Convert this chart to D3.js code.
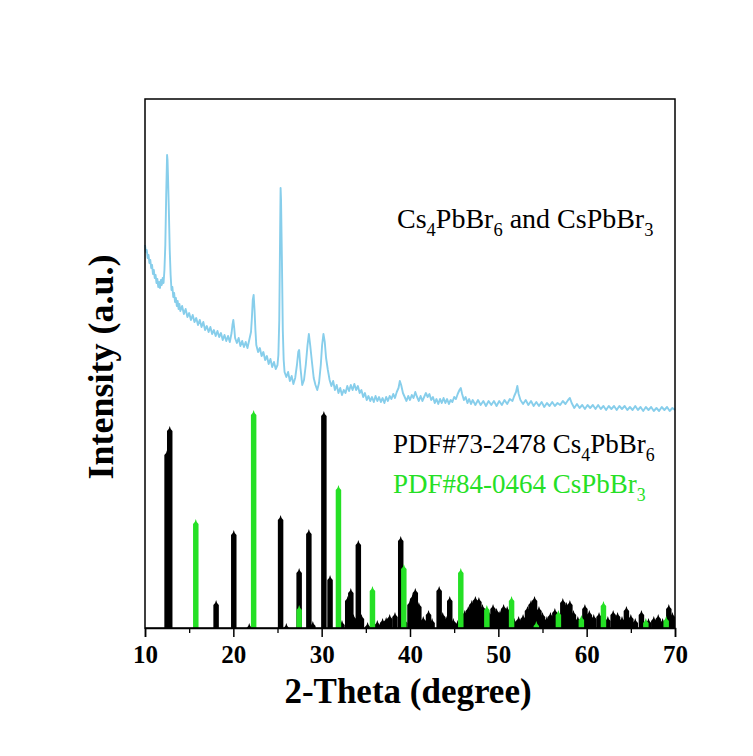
<!DOCTYPE html>
<html>
<head>
<meta charset="utf-8">
<script src="https://cdn.jsdelivr.net/npm/d3@7"></script>
<style>
  body { margin: 0; background: #fff; }
  text { font-family: "Liberation Serif", "Times New Roman", serif; }
</style>
</head>
<body>
<div id="chart"></div>
<script>
var svgWidth = 753;
var svgHeight = 756;

var margin = { top: 99, right: 78, bottom: 128, left: 145 };
var width = svgWidth - margin.left - margin.right;
var height = svgHeight - margin.top - margin.bottom;

// measured pattern, [2-theta, intensity]
var measured = [
  [10.0,383],[10.1,376],[10.2,378],[10.3,370],[10.4,373],[10.5,365],[10.6,368],[10.7,360],[10.8,363],[10.9,354],
  [11.0,358],[11.1,350],[11.2,353],[11.3,345],[11.4,349],[11.5,341],[11.6,346],[11.7,340],[11.8,348],[11.9,343],
  [12.0,350],[12.1,345],[12.2,358],[12.3,383],[12.4,433],[12.5,473],[12.55,468],[12.6,453],[12.7,418],[12.8,378],
  [12.9,353],[13.0,338],[13.1,341],[13.2,331],[13.3,335],[13.4,326],[13.5,330],[13.6,322],[13.7,327],[13.8,319],
  [13.9,324],[14.0,317],[14.2,322],[14.4,314],[14.6,319],[14.8,311],[15.0,315],[15.2,308],[15.4,313],[15.6,306],
  [15.8,310],[16.0,303],[16.2,308],[16.4,301],[16.6,306],[16.8,298],[17.0,302],[17.2,296],[17.4,301],[17.6,294],
  [17.8,298],[18.0,292],[18.2,297],[18.4,291],[18.6,295],[18.8,288],[19.0,293],[19.2,287],[19.4,292],[19.6,286],
  [19.8,295],[19.9,303],[20.0,308],[20.1,300],[20.2,290],[20.4,285],[20.6,290],[20.8,282],[21.0,287],[21.2,281],
  [21.4,286],[21.6,280],[21.8,288],[22.0,296],[22.1,310],[22.2,328],[22.3,333],[22.4,318],[22.5,298],[22.6,283],
  [22.8,276],[23.0,280],[23.2,272],[23.4,276],[23.6,268],[23.8,272],[24.0,264],[24.2,269],[24.4,261],[24.6,266],
  [24.8,259],[25.0,263],[25.1,273],[25.2,308],[25.3,398],[25.35,440],[25.4,428],[25.5,368],[25.6,298],[25.7,268],
  [25.8,256],[26.0,251],[26.2,256],[26.4,247],[26.6,252],[26.8,244],[27.0,250],[27.2,263],[27.35,276],[27.45,278],
  [27.6,260],[27.8,243],[28.0,248],[28.2,263],[28.4,283],[28.55,294],[28.7,283],[28.9,266],[29.1,250],[29.3,243],
  [29.5,238],[29.7,245],[29.9,263],[30.05,283],[30.2,294],[30.35,286],[30.5,270],[30.7,258],[30.9,248],[31.1,242],
  [31.3,247],[31.5,238],[31.7,243],[31.9,235],[32.1,240],[32.3,233],[32.5,238],[32.7,235],[32.9,242],[33.1,237],
  [33.3,243],[33.5,238],[33.7,244],[33.9,238],[34.1,242],[34.3,235],[34.5,238],[34.7,231],[34.9,235],[35.1,228],
  [35.3,232],[35.5,227],[35.7,231],[35.9,226],[36.1,232],[36.3,227],[36.5,231],[36.7,226],[36.9,230],[37.1,225],
  [37.3,231],[37.5,227],[37.7,232],[37.9,229],[38.1,234],[38.3,230],[38.5,236],[38.7,240],[38.85,247],[39.0,243],
  [39.2,235],[39.4,231],[39.6,227],[39.8,232],[40.0,228],[40.2,233],[40.4,230],[40.6,236],[40.8,231],[41.0,227],
  [41.2,232],[41.4,227],[41.6,231],[41.8,235],[42.0,231],[42.2,234],[42.4,228],[42.6,231],[42.8,225],[43.0,229],
  [43.2,224],[43.4,229],[43.6,225],[43.8,230],[44.0,225],[44.2,229],[44.4,224],[44.6,228],[44.8,226],[45.0,231],
  [45.2,229],[45.4,234],[45.6,238],[45.75,240],[45.9,234],[46.1,228],[46.3,231],[46.5,225],[46.7,229],[46.9,224],
  [47.1,228],[47.4,223],[47.7,228],[48.0,223],[48.3,227],[48.6,222],[48.9,227],[49.2,223],[49.5,227],[49.8,222],
  [50.1,227],[50.4,223],[50.7,228],[51.0,224],[51.3,229],[51.6,227],[51.8,232],[52.0,236],[52.15,242],[52.3,234],
  [52.5,228],[52.8,224],[53.1,228],[53.4,223],[53.7,227],[54.0,222],[54.3,226],[54.6,222],[54.9,226],[55.2,221],
  [55.5,225],[55.8,222],[56.1,226],[56.4,222],[56.7,225],[57.0,223],[57.3,227],[57.6,224],[57.9,228],[58.1,230],
  [58.3,225],[58.6,220],[58.9,224],[59.2,220],[59.5,223],[59.8,219],[60.1,223],[60.4,220],[60.7,223],[61.0,219],
  [61.3,223],[61.6,219],[61.9,222],[62.2,218],[62.5,222],[62.8,219],[63.1,222],[63.4,218],[63.7,222],[64.0,219],
  [64.3,222],[64.6,218],[64.9,221],[65.2,218],[65.5,222],[65.8,218],[66.1,221],[66.4,217],[66.7,221],[67.0,218],
  [67.3,221],[67.6,217],[67.9,220],[68.2,217],[68.5,221],[68.8,218],[69.1,221],[69.4,217],[69.7,220],[70.0,218]
];

// PDF#73-2478 Cs4PbBr6 reference lines
var cs4Peaks = [
  [12.5,176],[12.8,200],[18.05,26],[20.05,96],[21.8,3],[25.35,111],[26.0,3],[27.45,58],[28.55,97],[29.0,5],
  [30.25,215],[30.95,51],[32.3,6],[32.95,30],[33.3,38],[33.6,12],[34.15,86],[34.5,12],[35.2,4],[36.3,6],
  [36.9,8],[37.3,9],[37.7,12],[38.3,14],[38.95,90],[39.4,8],[40.0,26],[40.3,32],[40.6,38],[41.0,24],
  [41.5,10],[42.1,16],[42.5,8],[43.3,40],[43.7,14],[44.1,10],[44.5,30],[44.9,8],[45.4,6],[46.2,16],
  [46.6,20],[47.0,26],[47.4,30],[47.8,29],[48.2,22],[48.9,16],[49.4,22],[49.8,18],[50.2,16],[50.6,22],
  [51.0,20],[51.8,8],[52.3,10],[52.8,12],[53.3,20],[53.7,26],[54.1,30],[54.6,20],[55.0,14],[55.5,10],
  [55.9,14],[56.4,18],[57.3,28],[57.7,24],[58.1,26],[58.5,16],[59.0,10],[59.8,22],[60.3,16],[60.8,12],
  [61.4,14],[62.4,10],[63.0,16],[63.5,14],[64.0,10],[64.5,20],[65.0,12],[65.5,8],[66.2,16],[67.0,8],
  [67.6,10],[68.1,12],[68.6,8],[69.3,22],[69.7,14]
];

// PDF#84-0464 CsPbBr3 reference lines
var csPeaks = [
  [15.75,107],[22.3,216],[27.45,21],[31.9,141],[35.75,40],[39.3,62],[45.75,58],[48.7,21],
  [51.5,30],[54.3,5],[56.8,16],[59.4,11],[61.9,25],[66.7,8],[69.0,10]
];

var xTicks = [10, 20, 30, 40, 50, 60, 70];
var xMinorTicks = [15, 25, 35, 45, 55, 65];

var lineColor = "#87ceeb";
var greenColor = "#25e025";

var svg = d3.select("#chart")
  .append("svg")
  .attr("width", svgWidth)
  .attr("height", svgHeight);

svg.append("rect")
  .attr("width", svgWidth)
  .attr("height", svgHeight)
  .attr("fill", "#fff");

var chartGroup = svg.append("g")
  .attr("transform", `translate(${margin.left}, ${margin.top})`);

var xScale = d3.scaleLinear().domain([10, 70]).range([0, width]);
var yScale = d3.scaleLinear().domain([0, height]).range([height, 0]);

// reference sticks drawn as narrow peaks with a small tip
function stickPath(d) {
  var cx = xScale(d[0]);
  var hw = (xScale(d[0] + 0.31) - xScale(d[0] - 0.31)) / 2;
  var top = yScale(d[1]);
  var base = yScale(0);
  var tip = Math.min(3, d[1]);
  return `M${cx - hw},${base} L${cx - hw},${top + tip} L${cx - 1},${top + 1} L${cx},${top - 2} ` +
    `L${cx + 1},${top + 1} L${cx + hw},${top + tip} L${cx + hw},${base} Z`;
}

chartGroup.append("g")
  .selectAll("path")
  .data(cs4Peaks)
  .enter()
  .append("path")
  .attr("d", stickPath)
  .attr("fill", "#000");

chartGroup.append("g")
  .selectAll("path")
  .data(csPeaks)
  .enter()
  .append("path")
  .attr("d", stickPath)
  .attr("fill", greenColor);

var line = d3.line()
  .x(d => xScale(d[0]))
  .y(d => yScale(d[1]));

chartGroup.append("path")
  .datum(measured)
  .attr("d", line)
  .attr("fill", "none")
  .attr("stroke", lineColor)
  .attr("stroke-width", 1.9)
  .attr("stroke-linejoin", "round");

// frame
chartGroup.append("rect")
  .attr("width", width)
  .attr("height", height)
  .attr("fill", "none")
  .attr("stroke", "#000")
  .attr("stroke-width", 1.5);

// x axis
var bottomAxis = d3.axisBottom(xScale)
  .tickValues(xTicks)
  .tickSize(9)
  .tickPadding(8)
  .tickFormat(d3.format("d"));

var xAxis = chartGroup.append("g")
  .attr("transform", `translate(0, ${height})`)
  .call(bottomAxis);

xAxis.select(".domain").attr("stroke-width", 1.5);
xAxis.selectAll(".tick line").attr("stroke-width", 1.5);
xAxis.selectAll("text")
  .attr("font-family", "Liberation Serif, serif")
  .attr("font-size", 25)
  .attr("font-weight", "bold")
  .attr("fill", "#000");

chartGroup.append("g")
  .attr("transform", `translate(0, ${height})`)
  .call(d3.axisBottom(xScale).tickValues(xMinorTicks).tickSize(5).tickFormat(""))
  .call(g => g.select(".domain").remove())
  .selectAll("line").attr("stroke-width", 1.3);

// axis titles
svg.append("text")
  .attr("x", 408)
  .attr("y", 703)
  .attr("text-anchor", "middle")
  .attr("font-size", 35)
  .attr("font-weight", "bold")
  .text("2-Theta (degree)");

svg.append("text")
  .attr("transform", "rotate(-90)")
  .attr("x", -367)
  .attr("y", 113)
  .attr("text-anchor", "middle")
  .attr("font-size", 36)
  .attr("font-weight", "bold")
  .text("Intensity (a.u.)");

// labels with subscripts
function formulaLabel(x, y, size, parts, color) {
  var t = svg.append("text")
    .attr("x", x)
    .attr("y", y)
    .attr("font-size", size)
    .attr("fill", color);
  var shifted = false;
  parts.forEach(function(p) {
    if (p.sub) {
      t.append("tspan").attr("dy", 8).attr("font-size", size * 0.66).text(p.sub);
      shifted = true;
    } else {
      t.append("tspan").attr("dy", shifted ? -8 : 0).text(p.txt);
      shifted = false;
    }
  });
}

formulaLabel(397, 228, 28, [
  { txt: "Cs" }, { sub: "4" }, { txt: "PbBr" }, { sub: "6" },
  { txt: " and CsPbBr" }, { sub: "3" }
], "#000");

formulaLabel(393, 453, 27, [
  { txt: "PDF#73-2478 Cs" }, { sub: "4" }, { txt: "PbBr" }, { sub: "6" }
], "#000");

formulaLabel(393, 493, 27, [
  { txt: "PDF#84-0464 CsPbBr" }, { sub: "3" }
], greenColor);
</script>
</body>
</html>
